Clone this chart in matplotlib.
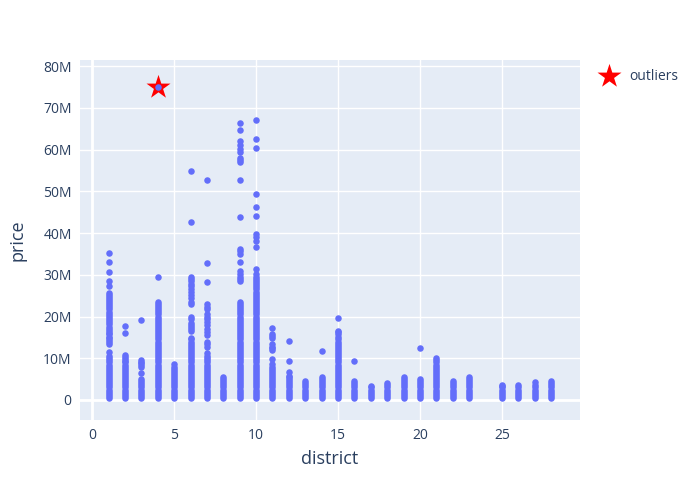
#scatter of price per district, with the outlier marked by a star

import matplotlib.pyplot as plt
from matplotlib.ticker import FuncFormatter

# prices in millions, one list per district
districts = [1, 2, 3, 4, 5, 6, 7, 8, 9, 10, 11, 12, 13, 14, 15, 16, 17, 18, 19, 20,
             21, 22, 23, 25, 26, 27, 28]
prices = [
    [0.5, 1, 1.5, 2, 2.5, 3, 3.5, 4, 4.5, 5, 5.5, 6, 6.5, 7, 7.5, 8, 8.5, 9, 9.5, 10,
     10.6, 11.6, 13.4, 13.9, 14.3, 14.8, 15.2, 15.7, 16.1, 16.6, 17, 17.6, 18.2, 18.7,
     19.2, 19.7, 20.2, 20.7, 21.2, 21.7, 22.2, 22.7, 23.2, 23.7, 24.2, 24.7, 25.2, 25.6,
     27.4, 28.6, 30.7, 33.0, 35.2],
    [0.5, 1, 1.5, 2, 2.5, 3, 3.5, 4, 4.5, 5, 5.5, 6, 6.5, 7, 7.5, 8, 8.5, 9, 9.4, 9.8,
     10.4, 10.9, 16.0, 17.8],
    [0.5, 1, 1.5, 2, 2.5, 3, 3.5, 4, 4.5, 5, 6.4, 8, 8.4, 8.8, 9.2, 9.6, 19.2],
    [0.5, 1, 1.5, 2, 2.5, 3, 3.5, 4, 4.5, 5, 5.5, 6, 6.5, 7, 7.5, 8, 8.5, 9, 9.5, 10,
     10.5, 11, 11.5, 12, 12.5, 13, 13.5, 14, 14.5, 15, 15.5, 16, 16.5, 17, 17.5, 18,
     18.5, 19, 19.5, 20, 20.5, 21, 21.5, 22, 22.5, 23, 23.4, 29.6, 75.0],
    [0.5, 1, 1.5, 2, 2.5, 3, 3.5, 4, 4.5, 5, 5.5, 6, 6.5, 7, 7.5, 8, 8.6],
    [0.5, 1, 1.5, 2, 2.5, 3, 3.5, 4, 4.5, 5, 5.5, 6, 6.5, 7, 7.5, 8, 8.5, 9, 9.5, 10,
     10.5, 11, 11.5, 12, 12.5, 13, 13.5, 14, 14.5, 14.9, 16.6, 17.0, 17.5, 18.0, 18.5,
     19.3, 19.8, 23.0, 23.6, 24.5, 25.2, 26.0, 26.6, 27.3, 27.9, 28.5, 29.0, 29.4, 42.7,
     55.0],
    [0.5, 1, 1.5, 2, 2.5, 3, 3.5, 4, 4.5, 5, 5.5, 6, 6.5, 7, 7.5, 8, 8.5, 9, 9.5, 10,
     10.6, 11.2, 12.6, 13.4, 14.0, 15.5, 16.3, 17.0, 18.0, 18.6, 19.5, 20.0, 20.6, 21.8,
     22.4, 23.0, 28.2, 32.8, 52.8],
    [0.5, 1, 1.5, 2, 2.5, 3, 3.5, 4, 4.5, 5, 5.6],
    [0.5, 1, 1.5, 2, 2.5, 3, 3.5, 4, 4.5, 5, 5.5, 6, 6.5, 7, 7.5, 8, 8.5, 9, 9.5, 10,
     10.5, 11, 11.5, 12, 12.5, 13, 13.5, 14, 14.5, 15, 15.5, 16, 16.5, 17, 17.5, 18,
     18.5, 19, 19.5, 20, 20.5, 21, 21.5, 22, 22.5, 23, 23.4, 28.6, 29.1, 29.5, 30.3,
     31.0, 33.0, 35.0, 35.6, 36.2, 43.8, 52.8, 57.0, 57.6, 58.1, 59.4, 60.2, 61.1, 62.1,
     64.8, 66.4],
    [0.5, 1, 1.5, 2, 2.5, 3, 3.5, 4, 4.5, 5, 5.5, 6, 6.5, 7, 7.5, 8, 8.5, 9, 9.5, 10,
     10.5, 11, 11.5, 12, 12.5, 13, 13.5, 14, 14.5, 15, 15.5, 16, 16.5, 17, 17.5, 18,
     18.5, 19, 19.5, 20, 20.5, 21, 21.5, 22, 22.5, 23, 23.5, 24, 24.5, 25, 25.5, 26,
     26.5, 27, 27.5, 28, 28.5, 29, 29.5, 30.1, 31.4, 36.7, 38.2, 39.0, 39.8, 44.0, 46.2,
     49.4, 60.5, 62.6, 67.2],
    [0.5, 1, 1.5, 2, 2.5, 3, 3.5, 4, 4.5, 5, 5.5, 6, 6.5, 7, 7.5, 8, 8.6, 9.9, 12.1,
     12.5, 12.8, 13.4, 14.9, 15.4, 15.8, 17.3],
    [0.5, 1, 1.5, 2, 2.5, 3, 3.5, 4, 4.5, 5, 5.4, 5.8, 6.8, 9.3, 14.2],
    [0.5, 1, 1.5, 2, 2.5, 3, 3.5, 4, 4.6],
    [0.5, 1, 1.5, 2, 2.5, 3, 3.5, 4, 4.5, 5, 5.6, 11.7],
    [0.5, 1, 1.5, 2, 2.5, 3, 3.5, 4, 4.5, 5, 5.5, 6, 6.5, 7, 7.5, 8, 8.5, 9, 9.5, 10,
     10.5, 11, 11.5, 12, 12.5, 13, 13.5, 14, 14.5, 15.0, 15.8, 16.2, 16.6, 19.7],
    [0.5, 1, 1.5, 2, 2.5, 3, 3.5, 4, 4.6, 9.3],
    [0.5, 1, 1.5, 2, 2.5, 3, 3.4],
    [0.5, 1, 1.5, 2, 2.5, 3, 3.5, 4.1],
    [0.5, 1, 1.5, 2, 2.5, 3, 3.5, 4, 4.5, 5, 5.4],
    [0.5, 1, 1.5, 2, 2.5, 3, 3.5, 4, 4.5, 5.1, 12.5],
    [0.5, 1, 1.5, 2, 2.5, 3, 3.5, 4, 4.5, 5, 5.5, 6, 6.5, 7, 7.5, 8, 8.5, 9, 9.5, 10.0],
    [0.5, 1, 1.5, 2, 2.5, 3, 3.5, 4, 4.6],
    [0.5, 1, 1.5, 2, 2.5, 3, 3.5, 4, 4.5, 5, 5.6],
    [0.5, 1, 1.5, 2, 2.5, 3, 3.3, 3.7],
    [0.5, 1, 1.5, 2, 2.5, 3, 3.6],
    [0.5, 1, 1.5, 2, 2.5, 3, 3.5, 4.2],
    [0.5, 1, 1.5, 2, 2.5, 3, 3.5, 4, 4.5],
]

outlier_district = [4]
outlier_price = [75.0]

y_ticks = [0, 10, 20, 30, 40, 50, 60, 70, 80]

plt.rcParams['font.family'] = ['Open Sans', 'DejaVu Sans']
text_color = '#2a3f5f'

fig = plt.figure(figsize=(7, 5), dpi=100)
ax = fig.add_axes([80 / 700, 80 / 500, 500 / 700, 360 / 500])
ax.set_facecolor('#e5ecf6')
for s in ax.spines.values():
    s.set_visible(False)

xs = []
ys = []
for d, plist in zip(districts, prices):
    for p in plist:
        xs.append(d)
        ys.append(p * 1e6)

star = ax.scatter(outlier_district, [p * 1e6 for p in outlier_price], marker='*',
                  s=330, color='red', zorder=3, label='outliers', linewidths=0)
ax.scatter(xs, ys, s=22, color='#636efa', zorder=4, linewidths=0)

ax.set_xlim(-0.75, 29.77)
ax.set_ylim(-4.8e6, 81.5e6)
ax.set_xticks([0, 5, 10, 15, 20, 25])
ax.set_yticks([v * 1e6 for v in y_ticks])
ax.yaxis.set_major_formatter(FuncFormatter(lambda v, pos: '0' if v == 0 else '%dM' % round(v / 1e6)))

ax.grid(True, color='white', linewidth=1, zorder=0)
ax.set_axisbelow(True)
ax.axhline(0, color='white', linewidth=2, zorder=1)
ax.axvline(0, color='white', linewidth=2, zorder=1)
ax.tick_params(length=0, labelsize=10, colors=text_color, pad=6)

ax.set_xlabel('district', fontsize=13, color=text_color, labelpad=5)
ax.set_ylabel('price', fontsize=13, color=text_color, labelpad=12)

fig.legend(handles=[star], loc='center left', bbox_to_anchor=(583 / 700, 1 - 76 / 500),
           frameon=False, fontsize=10, labelcolor=text_color, markerscale=1.0,
           handletextpad=0.4)

fig.savefig('out.png')
